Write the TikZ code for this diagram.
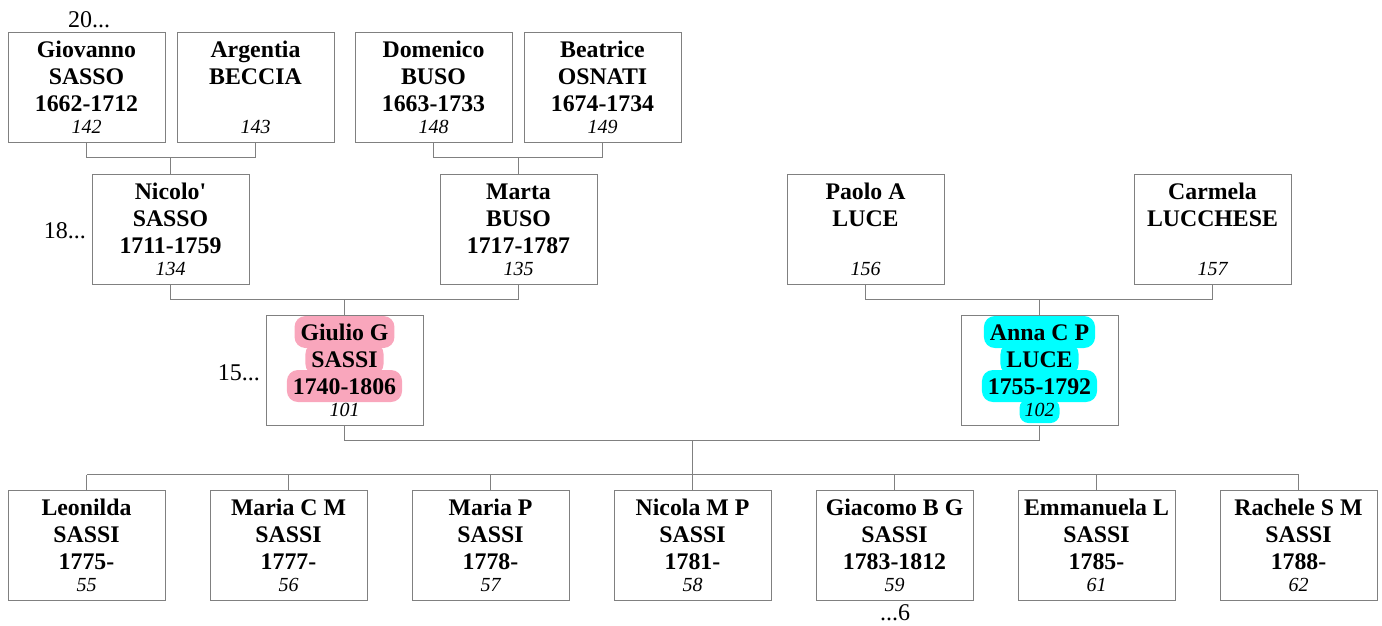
\documentclass[tikz,border=0pt]{standalone}
\usepackage{fontspec}
\setmainfont{Liberation Serif}
\usetikzlibrary{calc}
\definecolor{boxgray}{RGB}{128,128,128}
\definecolor{hlpink}{RGB}{249,166,188}
\definecolor{hlcyan}{RGB}{0,255,255}
\tikzset{
 pbox/.style={draw=boxgray, line width=1pt, minimum width=157pt, minimum height=110pt, inner sep=0pt},
 nm/.style={anchor=base, font=\fontsize{23.8}{27}\selectfont\bfseries, inner xsep=6pt, inner ysep=2pt, text height=22pt, text depth=6pt, rounded corners=11pt},
 num/.style={anchor=base, font=\fontsize{20}{22}\selectfont\itshape, inner xsep=5pt, inner ysep=2pt, text height=15pt, text depth=5pt, rounded corners=9pt},
 gen/.style={anchor=base, inner sep=0pt, font=\fontsize{24}{26}\selectfont},
 conn/.style={draw=boxgray, line width=1pt},
 hlp/.style={fill=hlpink},
 hlc/.style={fill=hlcyan},
 plain/.style={},
}
% id, left, top, line1, line2, line3, number, line highlight, number highlight
\newcommand\person[9]{%
 \node[pbox] (#1) at ({#2+78.5},{#3+55}) {};
 \node[nm,#8,text opacity=0] at ({#2+78.5},{#3+25}) {#4};
 \node[nm,#8,text opacity=0] at ({#2+78.5},{#3+52}) {#5};
 \node[nm,#8,text opacity=0] at ({#2+78.5},{#3+79}) {#6};
 \node[num,#9,text opacity=0] at ({#2+78.5},{#3+101}) {#7};
 \node[nm] (#1-a) at ({#2+78.5},{#3+25}) {#4};
 \node[nm] (#1-b) at ({#2+78.5},{#3+52}) {#5};
 \node[nm] (#1-c) at ({#2+78.5},{#3+79}) {#6};
 \node[num] (#1-n) at ({#2+78.5},{#3+101}) {#7};
}
\begin{document}
\begin{tikzpicture}[x=1pt,y=-1pt]
\useasboundingbox (0,0) rectangle (1382,625);
% generation 1
\person{gio}{8}{32}{Giovanno}{SASSO}{1662-1712}{142}{plain}{plain}
\person{arg}{177}{32}{Argentia}{BECCIA}{}{143}{plain}{plain}
\person{dom}{355}{32}{Domenico}{BUSO}{1663-1733}{148}{plain}{plain}
\person{bea}{524}{32}{Beatrice}{OSNATI}{1674-1734}{149}{plain}{plain}
% generation 2
\person{nic}{92}{174}{Nicolo\textquotesingle}{SASSO}{1711-1759}{134}{plain}{plain}
\person{mar}{440}{174}{Marta}{BUSO}{1717-1787}{135}{plain}{plain}
\person{pao}{787}{174}{Paolo A}{LUCE}{}{156}{plain}{plain}
\person{car}{1134}{174}{Carmela}{LUCCHESE}{}{157}{plain}{plain}
% generation 3
\person{giu}{266}{315}{Giulio G}{SASSI}{1740-1806}{101}{hlp}{plain}
\person{ann}{961}{315}{Anna C P}{LUCE}{1755-1792}{102}{hlc}{hlc}
% children
\person{c1}{8}{490}{Leonilda}{SASSI}{1775-}{55}{plain}{plain}
\person{c2}{210}{490}{Maria C M}{SASSI}{1777-}{56}{plain}{plain}
\person{c3}{412}{490}{Maria P}{SASSI}{1778-}{57}{plain}{plain}
\person{c4}{614}{490}{Nicola M P}{SASSI}{1781-}{58}{plain}{plain}
\person{c5}{816}{490}{Giacomo B G}{SASSI}{1783-1812}{59}{plain}{plain}
\person{c6}{1018}{490}{Emmanuela L}{SASSI}{1785-}{61}{plain}{plain}
\person{c7}{1220}{490}{Rachele S M}{SASSI}{1788-}{62}{plain}{plain}
% generation labels
\node[gen] (g20) at (89,27) {20...};
\node[gen,anchor=base east] (g18) at (86,238) {18...};
\node[gen,anchor=base east] (g15) at (260,380) {15...};
\node[gen] (g6) at (895,620) {...6};
% connectors
\draw[conn] (gio.south) -- ++(0,15) coordinate (b1) -| (arg.south);
\draw[conn] (nic.north) -- (nic.north |- b1);
\draw[conn] (dom.south) -- ++(0,15) coordinate (b2) -| (bea.south);
\draw[conn] (mar.north) -- (mar.north |- b2);
\draw[conn] (nic.south) -- ++(0,15) coordinate (b3) -| (mar.south);
\draw[conn] (giu.north) -- (giu.north |- b3);
\draw[conn] (pao.south) -- ++(0,15) coordinate (b4) -| (car.south);
\draw[conn] (ann.north) -- (ann.north |- b4);
\draw[conn] (giu.south) -- ++(0,15) -| (ann.south);
\coordinate (fam) at ($(giu.south)!0.5!(ann.south)+(0,15)$);
\draw[conn] (fam) -- ++(0,34) coordinate (kids);
\draw[conn] (c1.north |- kids) -- (c7.north |- kids);
\foreach \c in {c1,c2,c3,c4,c5,c6,c7} {
  \draw[conn] (\c.north) -- (\c.north |- kids);
}
\end{tikzpicture}
\end{document}
